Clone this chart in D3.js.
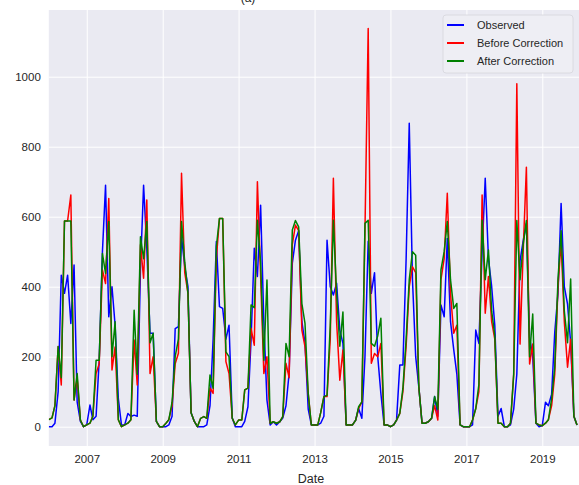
<!DOCTYPE html>
<html>
<head>
<meta charset="utf-8">
<script src="https://cdn.jsdelivr.net/npm/d3@7"></script>
<style>
  html, body { margin: 0; padding: 0; background: #ffffff; }
  svg { display: block; }
  text { font-family: "Liberation Sans", Arial, sans-serif; }
</style>
</head>
<body>
<script>
// ---- data (monthly, Jan 2006 .. Dec 2019) ----
const startYear = 2006;
const endYear = 2019;
const seriesNames = ["Observed", "Before Correction", "After Correction"];
const xTickYears = [2007, 2009, 2011, 2013, 2015, 2017, 2019];
const yTicks = [0, 200, 400, 600, 800, 1000];

const observed = [
  0, 0, 10, 100, 433, 381, 433, 295, 462, 70, 15, 0,
  5, 62, 20, 30, 190, 500, 690, 314, 400, 290, 80, 5,
  5, 38, 29, 33, 30, 450, 690, 510, 267, 267, 15, 0,
  0, 0, 5, 30, 280, 286, 543, 457, 400, 40, 15, 0,
  0, 0, 5, 60, 250, 529, 343, 338, 250, 290, 25, 0,
  0, 0, 15, 57, 248, 510, 429, 633, 300, 76, 5, 14,
  5, 14, 25, 60, 152, 467, 533, 560, 300, 238, 50, 5,
  5, 5, 10, 30, 533, 400, 376, 410, 276, 238, 5, 5,
  5, 19, 52, 24, 200, 530, 381, 440, 200, 95, 5, 5,
  0, 5, 19, 176, 176, 480, 867, 420, 200, 114, 10, 10,
  14, 24, 86, 30, 348, 314, 538, 300, 220, 150, 5, 0,
  0, 0, 5, 276, 238, 500, 710, 480, 400, 290, 30, 52,
  0, 0, 5, 50, 150, 474, 531, 580, 255, 200, 10, 0,
  3, 70, 60, 93, 270, 380, 638, 400, 350, 240, 30, 5
];
const beforeCorrection = [
  20, 25, 60, 229, 119, 588, 588, 662, 76, 140, 19, 0,
  5, 10, 30, 152, 180, 448, 409, 652, 162, 228, 20, 0,
  5, 10, 20, 248, 119, 520, 424, 648, 152, 200, 15, 0,
  0, 10, 20, 60, 180, 210, 724, 440, 381, 40, 15, 0,
  24, 29, 24, 110, 95, 480, 595, 595, 186, 152, 24, 5,
  19, 19, 105, 110, 281, 233, 700, 430, 152, 200, 10, 14,
  10, 14, 29, 181, 140, 520, 576, 560, 276, 229, 95, 5,
  5, 5, 40, 86, 86, 250, 710, 300, 133, 219, 5, 5,
  5, 19, 52, 71, 560, 1138, 181, 209, 200, 238, 5, 5,
  0, 5, 19, 38, 100, 230, 400, 457, 440, 114, 10, 10,
  14, 24, 60, 19, 420, 480, 667, 380, 267, 290, 5, 0,
  0, 0, 19, 52, 100, 662, 324, 429, 300, 250, 10, 10,
  0, 0, 10, 150, 980, 236, 500, 741, 179, 236, 10, 5,
  3, 10, 20, 60, 150, 400, 530, 300, 170, 250, 30, 5
];
const afterCorrection = [
  20, 25, 60, 229, 140, 588, 588, 588, 76, 152, 19, 0,
  5, 10, 30, 190, 190, 495, 438, 586, 200, 300, 20, 0,
  5, 10, 20, 333, 150, 543, 480, 586, 240, 267, 15, 0,
  0, 10, 20, 70, 200, 250, 586, 470, 381, 40, 15, 0,
  24, 29, 24, 148, 110, 514, 595, 595, 214, 200, 24, 5,
  19, 19, 105, 110, 348, 340, 590, 470, 190, 419, 10, 14,
  10, 14, 29, 238, 200, 562, 589, 571, 352, 295, 95, 5,
  5, 5, 40, 86, 90, 290, 590, 380, 230, 328, 5, 5,
  5, 19, 57, 71, 581, 590, 238, 230, 260, 310, 5, 5,
  0, 5, 19, 38, 110, 250, 420, 500, 490, 114, 10, 10,
  14, 24, 86, 50, 448, 500, 586, 420, 338, 352, 5, 0,
  0, 0, 19, 52, 120, 590, 420, 505, 330, 260, 10, 10,
  0, 0, 10, 150, 589, 420, 520, 589, 200, 322, 10, 5,
  3, 10, 20, 80, 170, 420, 560, 330, 240, 422, 30, 5
];
const seriesColors = ["#0000ff", "#ff0000", "#008000"];

// month dates (category index)
const dates = [];
for (let y = startYear; y <= endYear; y++) for (let m = 0; m < 12; m++) dates.push(new Date(y, m, 1));

// ---- layout ----
const W = 579, H = 485;
const plot = { left: 48.8, top: 10, right: 579, bottom: 446 };

const svg = d3.select("body").append("svg").attr("width", W).attr("height", H);

const x = d3.scaleTime()
  .domain([dates[0], dates[dates.length - 1]])
  .range([48.8, 577]);
const y = d3.scaleLinear().domain([0, 1000]).range([426.7, 76.7]);

// title (cropped at the top edge, as in the reference)
svg.append("text").attr("x", 248).attr("y", 1.5).attr("text-anchor", "middle")
  .attr("font-size", 12).attr("fill", "#262626").text("(a)");

// background
svg.append("rect").attr("x", plot.left).attr("y", plot.top)
  .attr("width", plot.right - plot.left).attr("height", plot.bottom - plot.top)
  .attr("fill", "#eaeaf2");

const g = svg.append("g");
svg.append("clipPath").attr("id", "clip").append("rect")
  .attr("x", plot.left).attr("y", plot.top)
  .attr("width", plot.right - plot.left).attr("height", plot.bottom - plot.top);

// y axis (grid + labels)
const yAxis = d3.axisLeft(y).tickValues(yTicks).tickFormat(d3.format("d"))
  .tickSize(-(plot.right - plot.left)).tickPadding(8);
const yg = g.append("g").attr("transform", `translate(${plot.left},0)`).call(yAxis);
yg.select(".domain").remove();
yg.selectAll(".tick line").attr("stroke", "#ffffff").attr("stroke-width", 1);
yg.selectAll(".tick text").attr("font-size", 11.5).attr("fill", "#262626")
  .attr("font-family", "Liberation Sans, Arial, sans-serif");

// x axis (grid + labels)
const xAxis = d3.axisBottom(x)
  .tickValues(xTickYears.map(yy => new Date(yy, 0, 1)))
  .tickFormat(d3.timeFormat("%Y"))
  .tickSize(-(plot.bottom - plot.top)).tickPadding(9);
const xg = g.append("g").attr("transform", `translate(0,${plot.bottom})`).call(xAxis);
xg.select(".domain").remove();
xg.selectAll(".tick line").attr("stroke", "#ffffff").attr("stroke-width", 1);
xg.selectAll(".tick text").attr("font-size", 11.5).attr("fill", "#262626")
  .attr("font-family", "Liberation Sans, Arial, sans-serif");

// x label
svg.append("text").attr("x", 311).attr("y", 483).attr("text-anchor", "middle")
  .attr("font-size", 12.5).attr("fill", "#262626").text("Date");

// lines
const line = d3.line().x((d, i) => x(dates[i])).y(d => y(d));
const lines = svg.append("g").attr("clip-path", "url(#clip)");
[observed, beforeCorrection, afterCorrection].forEach((s, k) => {
  lines.append("path").datum(s).attr("d", line)
    .attr("fill", "none").attr("stroke", seriesColors[k])
    .attr("stroke-width", 1.5).attr("stroke-linejoin", "round");
});

// legend
const lg = svg.append("g");
lg.append("rect").attr("x", 443).attr("y", 15).attr("width", 130).attr("height", 58)
  .attr("rx", 3).attr("fill", "#eeeef4")
  .attr("stroke", "#d6d6dc").attr("stroke-width", 0.8);
seriesNames.forEach((n, k) => {
  const yy = 25 + k * 18;
  lg.append("line").attr("x1", 447).attr("x2", 464).attr("y1", yy).attr("y2", yy)
    .attr("stroke", seriesColors[k]).attr("stroke-width", 2);
  lg.append("text").attr("x", 477).attr("y", yy + 4).attr("font-size", 11)
    .attr("fill", "#262626").text(n);
});
</script>
</body>
</html>
